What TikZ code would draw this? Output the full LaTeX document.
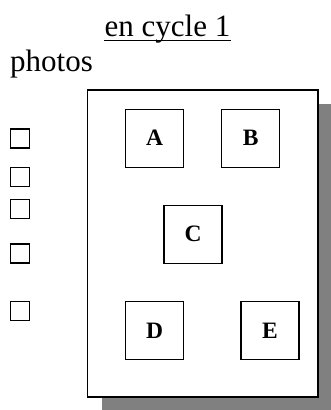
\documentclass[tikz,border=0pt]{standalone}
\usepackage{fontspec}
\setmainfont{Liberation Serif}
\begin{document}
\begin{tikzpicture}[x=1pt,y=1pt,
  bigtext/.style={font=\fontsize{31}{36}\selectfont, inner sep=0pt},
  letterbox/.style={draw, line width=1.3pt, minimum width=58pt, minimum height=58pt, inner sep=0pt, font=\fontsize{23.5}{28}\selectfont\bfseries},
  tickbox/.style={draw, line width=1.2pt, minimum width=19pt, minimum height=19pt, inner sep=0pt}]
\useasboundingbox (0,0) rectangle (331,410);
% shadow and frame
\fill[fill={rgb,255:red,128;green,128;blue,128}] (101.5,0) rectangle (332,306);
\node[draw, line width=1.3pt, fill=white, minimum width=230.5pt, minimum height=307pt, inner sep=0pt] (frame) at (202.75,166.5) {};
% title
\node[bigtext, anchor=base] (title) at (167.5,373.3) {en cycle 1};
\draw[line width=1.3pt] (title.base west |- 0,369.4) coordinate (ul1) -- (title.base east |- 0,369.4) coordinate (ul2);
\node[bigtext, anchor=base west] (photos) at (10,338.3) {photos};
% letter boxes
\node[letterbox] (A) at (154.7,271.8) {A};
\node[letterbox] (B) at (250.7,271.8) {B};
\node[letterbox] (C) at (193,175.8) {C};
\node[letterbox] (D) at (154.7,79.3) {D};
\node[letterbox] (E) at (270,79.3) {E};
% tick boxes
\node[tickbox] (t1) at (20.3,271.5) {};
\node[tickbox] (t2) at (20.3,232.8) {};
\node[tickbox] (t3) at (20.3,201) {};
\node[tickbox] (t4) at (20.3,156.5) {};
\node[tickbox] (t5) at (20.3,98.7) {};
\end{tikzpicture}
\end{document}
